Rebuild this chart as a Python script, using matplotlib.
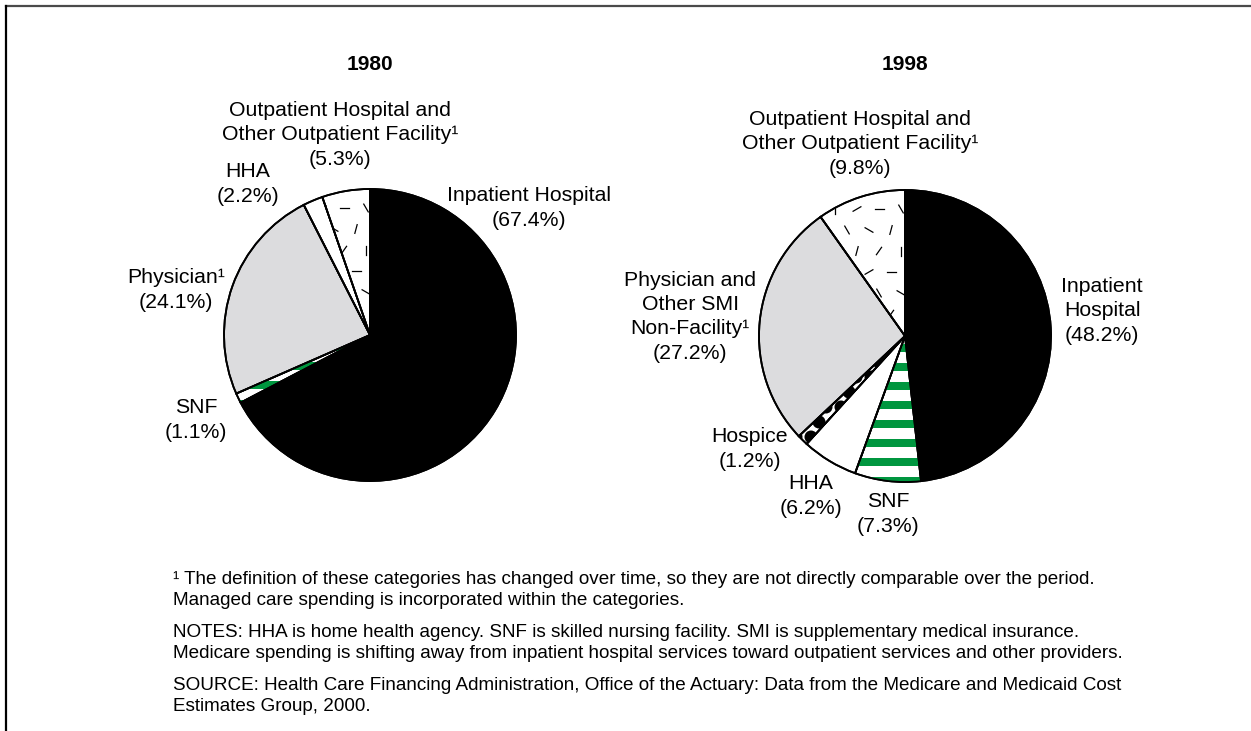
import matplotlib
matplotlib.use('Agg')
import matplotlib.pyplot as plt
from matplotlib.patches import Wedge, Rectangle, Circle
from matplotlib.lines import Line2D
import numpy as np

plt.rcParams['font.family'] = ['Liberation Sans', 'DejaVu Sans']

W, H = 1251, 731
GREEN = '#00963F'
GREY = '#DCDCDE'
PITCH = 24.5  # px between label lines

# data
years = ['1980', '1998']

names_1980 = ['Inpatient Hospital', 'SNF', 'Physician¹', 'HHA',
              'Outpatient Hospital and\nOther Outpatient Facility¹']
values_1980 = [67.4, 1.1, 24.1, 2.2, 5.3]
kinds_1980 = ['inpatient', 'snf', 'physician', 'hha', 'outpatient']

names_1998 = ['Inpatient\nHospital', 'SNF', 'HHA', 'Hospice',
              'Physician and\nOther SMI\nNon-Facility¹',
              'Outpatient Hospital and\nOther Outpatient Facility¹']
values_1998 = [48.2, 7.3, 6.2, 1.2, 27.2, 9.8]
kinds_1998 = ['inpatient', 'snf', 'hha', 'hospice', 'physician', 'outpatient']

# label spots in pixel coords (x, y from top)
pos_1980 = [(529, 208), (196, 420), (176, 290), (248, 184), (340, 135)]
pos_1998 = [(1102, 311), (888, 514), (811, 496), (750, 449), (690, 317), (860, 144)]

footnotes = [
    ("¹ The definition of these categories has changed over time, so they are not directly comparable over the period.\n"
     "Managed care spending is incorporated within the categories.", 590),
    ("NOTES: HHA is home health agency. SNF is skilled nursing facility. SMI is supplementary medical insurance.\n"
     "Medicare spending is shifting away from inpatient hospital services toward outpatient services and other providers.", 643),
    ("SOURCE: Health Care Financing Administration, Office of the Actuary: Data from the Medicare and Medicaid Cost\n"
     "Estimates Group, 2000.", 696),
]


def fill_texture(ax, w, kind, cx, cy, r):
    if kind == 'snf':
        for y in np.arange(cy - r - 3, cy + r, 19):
            st = Rectangle((cx - r, y), 2 * r, 8, facecolor=GREEN, edgecolor='none', zorder=2)
            ax.add_patch(st)
            st.set_clip_path(w)
    elif kind == 'hospice':
        for i, y in enumerate(np.arange(cy - r, cy + r, 15)):
            off = 7 if i % 2 else 0
            for x in np.arange(cx - r + off, cx + r, 15):
                d = Circle((x, y), 6.5, facecolor='black', edgecolor='none', zorder=2)
                ax.add_patch(d)
                d.set_clip_path(w)
    elif kind == 'outpatient':
        angs = [0, 55, 120, 90, 150, 30, 75]
        for i, y in enumerate(np.arange(cy - r, cy + r, 21)):
            off = 10 if i % 2 else 0
            for j, x in enumerate(np.arange(cx - r + off, cx + r, 22)):
                a = np.deg2rad(angs[(i * 3 + j * 2) % len(angs)])
                dx, dy = 4.5 * np.cos(a), 4.5 * np.sin(a)
                ln = Line2D([x - dx, x + dx], [y - dy, y + dy], color='black', lw=0.9, zorder=2)
                ax.add_line(ln)
                ln.set_clip_path(w)


def draw_pie(ax, cx, cy, r, values, kinds, names, pos, year):
    face = {'inpatient': 'black', 'physician': GREY}
    colors = [face.get(k, 'white') for k in kinds]
    wedges, _ = ax.pie(values, colors=colors, startangle=90, counterclock=False,
                       center=(cx, cy), radius=r,
                       wedgeprops=dict(edgecolor='black', linewidth=1.3, zorder=1))
    for w, k in zip(wedges, kinds):
        fill_texture(ax, w, k, cx, cy, r)
        ax.add_patch(Wedge(w.center, w.r, w.theta1, w.theta2, fill=False,
                           edgecolor='black', linewidth=1.3, zorder=3))
    for n, v, (px, py) in zip(names, values, pos):
        nl = n.count('\n') + 1
        ax.text(px, H - (py - PITCH / 2), n, ha='center', va='center',
                fontsize=15.3, linespacing=1.33)
        ax.text(px, H - (py + nl * PITCH / 2), f"({v}%)", ha='center', va='center',
                fontsize=15.3)
    ax.text(cx, H - 64, year, ha='center', va='center', fontsize=15, fontweight='bold')


fig = plt.figure(figsize=(W / 100, H / 100), dpi=100)
ax = fig.add_axes([0, 0, 1, 1])

draw_pie(ax, 370, H - 335, 146, values_1980, kinds_1980, names_1980, pos_1980, years[0])
draw_pie(ax, 905, H - 336, 146, values_1998, kinds_1998, names_1998, pos_1998, years[1])

for txt, y in footnotes:
    ax.text(173, H - y, txt, ha='left', va='center', fontsize=13.6, linespacing=1.32)

ax.set_xlim(0, W)
ax.set_ylim(0, H)
ax.set_aspect('equal')
ax.axis('off')

# frame (top and left only)
fig.add_artist(Line2D([6 / W, 1], [1 - 6 / H, 1 - 6 / H], transform=fig.transFigure, color='#4a4a4a', lw=1.6))
fig.add_artist(Line2D([6 / W, 6 / W], [0, 1 - 6 / H], transform=fig.transFigure, color='black', lw=1.6))

fig.savefig('out.png', dpi=100)
